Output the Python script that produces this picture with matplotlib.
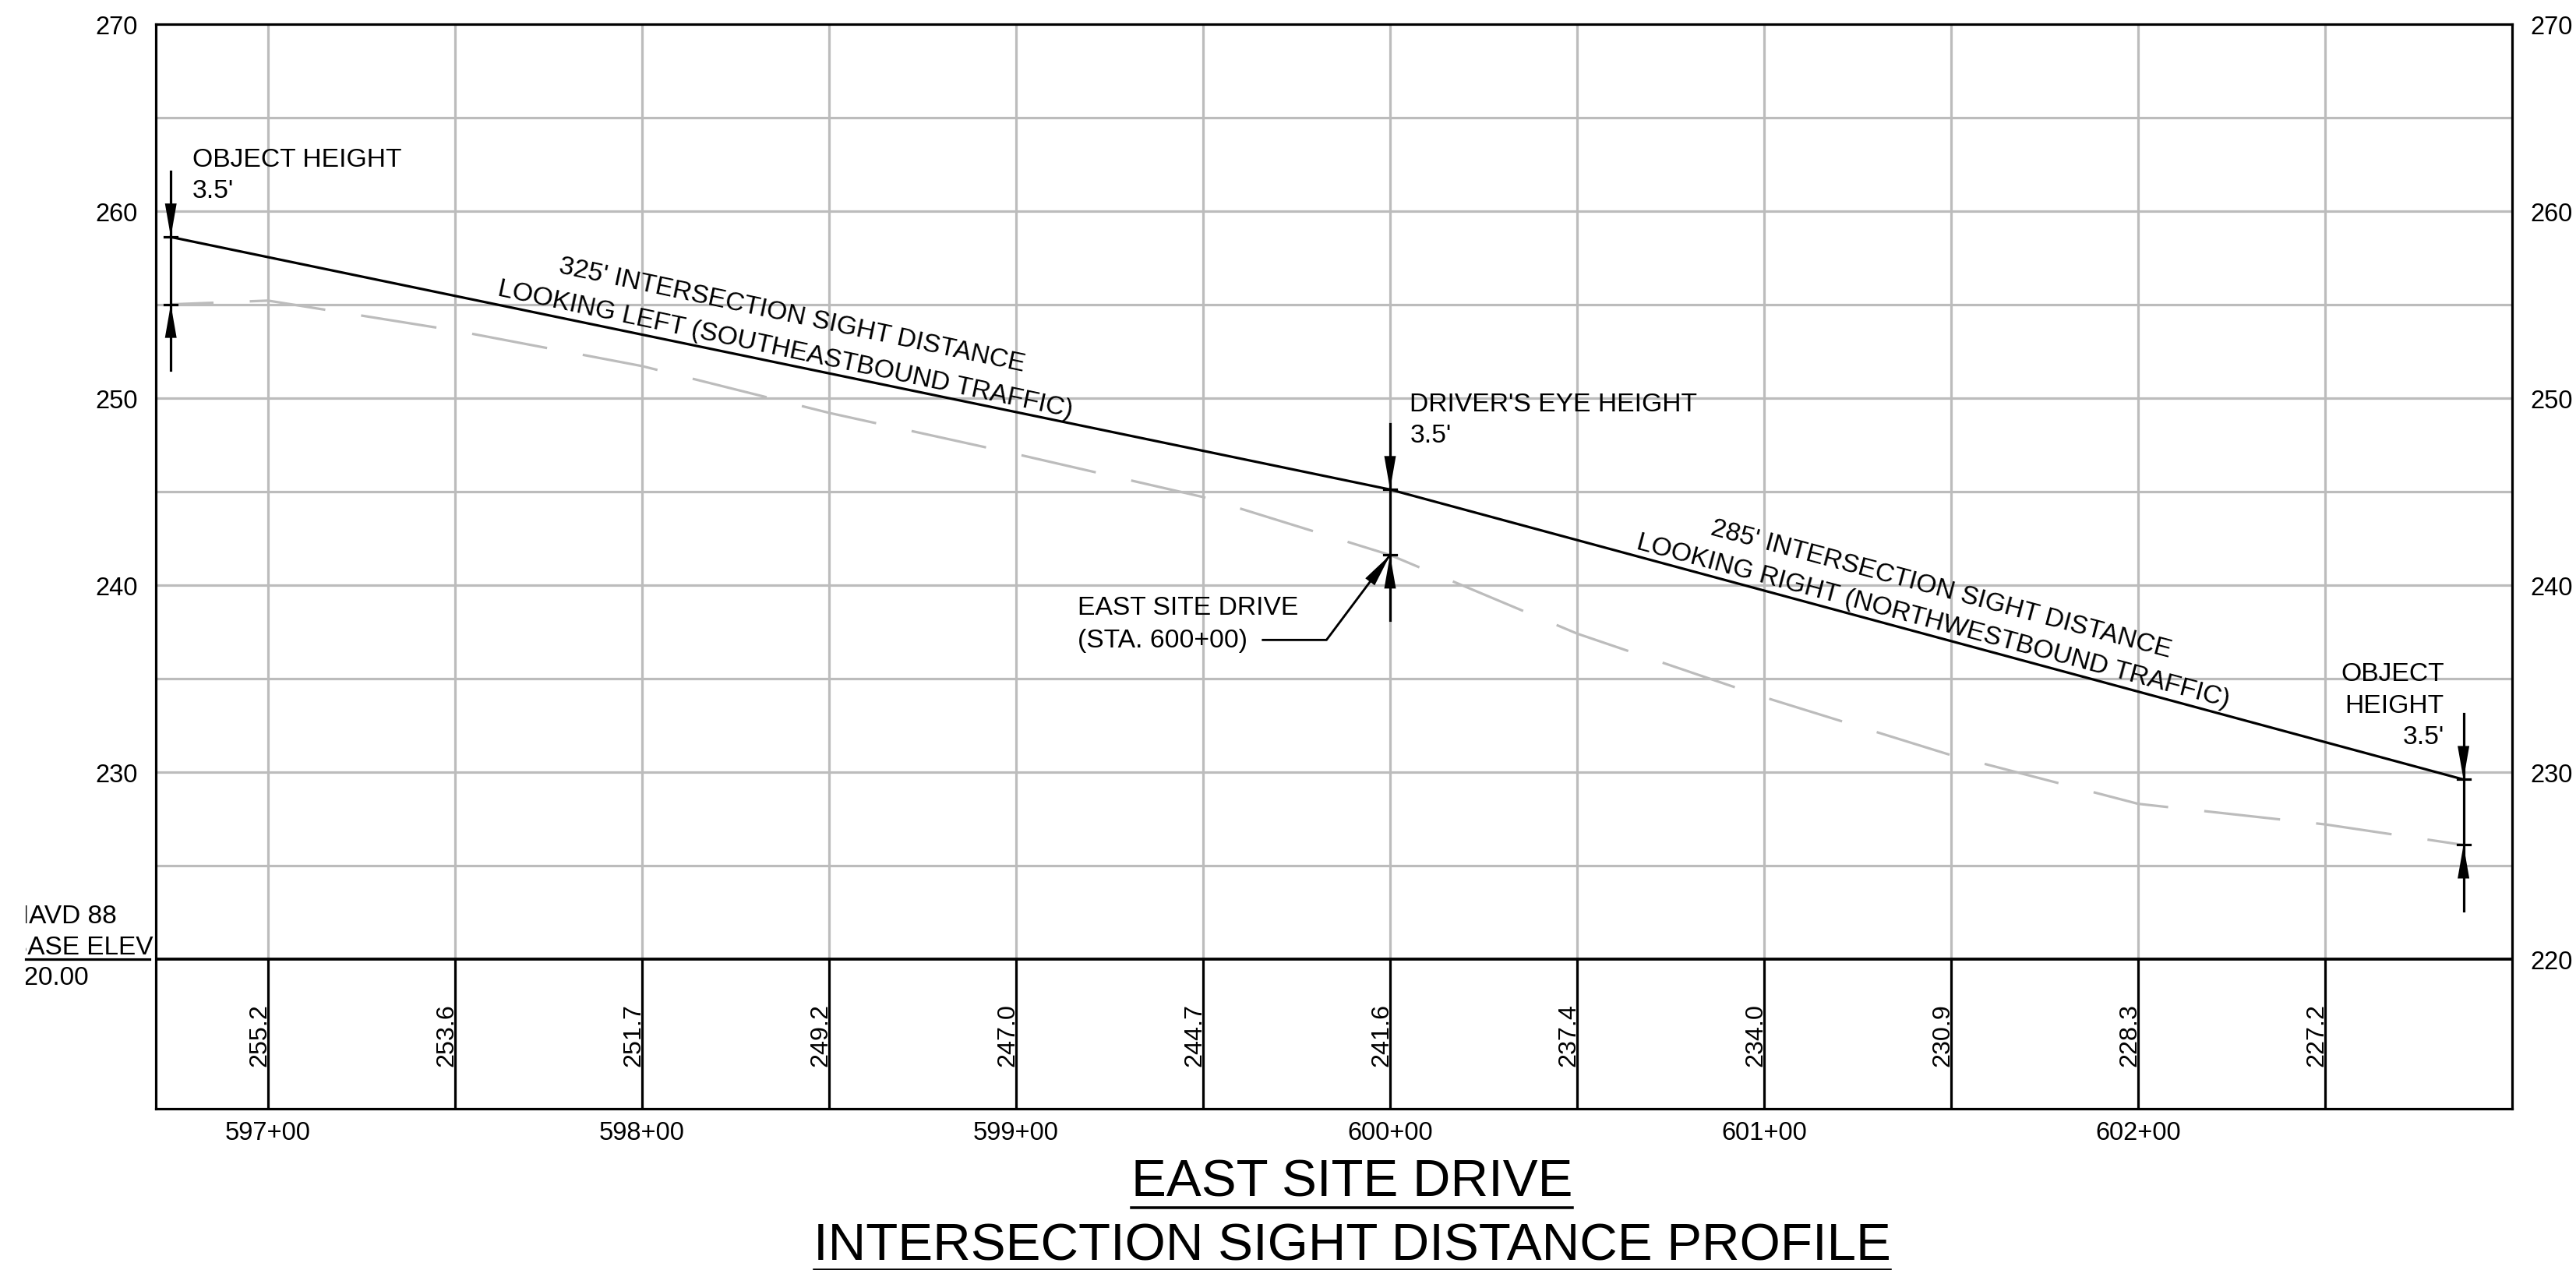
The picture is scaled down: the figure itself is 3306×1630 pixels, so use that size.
import matplotlib
matplotlib.use("Agg")
import matplotlib.pyplot as plt
from matplotlib.lines import Line2D
from matplotlib.transforms import Bbox

plt.rcParams['font.family'] = ['Liberation Sans', 'DejaVu Sans']
plt.rcParams['lines.scale_dashes'] = False

# Profile data (station in hundreds of feet)
stations = [596.74, 597.0, 597.5, 598.0, 598.5, 599.0, 599.5, 600.0, 600.5, 601.0, 601.5, 602.0, 602.5, 602.87]
grade = [255.0, 255.2, 253.6, 251.7, 249.2, 247.0, 244.7, 241.6, 237.4, 234.0, 230.9, 228.3, 227.2, 226.1]

# Sight line
sight_x = [596.74, 600.0, 602.87]
sight_y = [258.6, 245.1, 229.6]

# Table along the bottom
table_x = [597.0, 597.5, 598.0, 598.5, 599.0, 599.5, 600.0, 600.5, 601.0, 601.5, 602.0, 602.5]
table_labels = ['255.2', '253.6', '251.7', '249.2', '247.0', '244.7', '241.6', '237.4', '234.0', '230.9', '228.3', '227.2']

elev_ticks = [220, 230, 240, 250, 260, 270]
elev_grid = [225, 230, 235, 240, 245, 250, 255, 260, 265]
station_ticks = [597, 598, 599, 600, 601, 602]
station_labels = ['597+00', '598+00', '599+00', '600+00', '601+00', '602+00']

GRAY = '#bcbcbc'
W, H = 3306, 1631
PX_X = 1 / 480.0   # station per pixel
PX_Y = 1 / 24.0    # elevation per pixel
LW = 2.3
FS = 24.2

fig = plt.figure(figsize=(W / 100, H / 100), dpi=100)
ax = fig.add_axes([200 / W, 1 - 1424 / H, (3224 - 200) / W, (1424 - 31.5) / H])
ax.set_xlim(596.70, 603.00)
ax.set_ylim(212, 270)

# grid above the base line, black table rules below it
ax.hlines(elev_grid, 596.70, 603.00, color=GRAY, lw=LW, zorder=1)
ax.vlines(table_x, 220, 270, color=GRAY, lw=LW, zorder=1)
ax.vlines(table_x, 212, 220, color='black', lw=LW, zorder=2)
ax.axhline(220, color='black', lw=LW + 0.4, zorder=2)

# existing grade and sight line
ax.plot(stations, grade, color=GRAY, lw=LW, linestyle=(31, (70.5, 33.5)), dash_capstyle='butt', zorder=2)
ax.plot(sight_x, sight_y, color='black', lw=LW, zorder=3)


def arrow_head(tip_x, tip_y, dx, dy):
    # filled head 43 px long, 15 px wide, pointing at the tip
    n = (dx ** 2 + dy ** 2) ** 0.5
    ux, uy = dx / n, dy / n
    bx, by = -ux * 43, -uy * 43
    px, py = -uy * 7.5, ux * 7.5
    ax.fill([tip_x, tip_x + (bx + px) * PX_X, tip_x + (bx - px) * PX_X],
            [tip_y, tip_y + (by + py) * PX_Y, tip_y + (by - py) * PX_Y],
            color='black', lw=0, zorder=4)


def height_marker(x, top, bottom, reach=3.5):
    ax.plot([x, x], [top + reach, bottom - reach], color='black', lw=LW, zorder=4)
    for y in (top, bottom):
        ax.plot([x - 8 * PX_X, x + 8 * PX_X], [y, y], color='black', lw=LW, zorder=4)
    arrow_head(x, top, 0, -1)
    arrow_head(x, bottom, 0, 1)


height_marker(596.74, 258.6, 255.0)
height_marker(600.0, 245.1, 241.6)
height_marker(602.87, 229.6, 226.1)

# leader for the site drive label
leader_x = [599.66, 599.83, 600.0]
leader_y = [237.06, 237.06, 241.6]
ax.plot(leader_x, leader_y, color='black', lw=LW * 0.9, zorder=4)
arrow_head(leader_x[2], leader_y[2], (leader_x[2] - leader_x[1]) / PX_X, (leader_y[2] - leader_y[1]) / PX_Y)

# notes
notes = [
    (596.798, 262.40, 'OBJECT HEIGHT', 'left'),
    (596.798, 260.73, "3.5'", 'left'),
    (600.053, 249.31, "DRIVER'S EYE HEIGHT", 'left'),
    (600.053, 247.65, "3.5'", 'left'),
    (599.164, 238.44, 'EAST SITE DRIVE', 'left'),
    (599.164, 236.70, '(STA. 600+00)', 'left'),
    (602.818, 234.90, 'OBJECT', 'right'),
    (602.818, 233.19, 'HEIGHT', 'right'),
    (602.818, 231.52, "3.5'", 'right'),
]
for x, y, s, ha in notes:
    ax.text(x, y, s, ha=ha, va='baseline', fontsize=FS, zorder=5)

# sloped notes along the sight line
sloped = [
    (597.775, 256.72, "325' INTERSECTION SIGHT DISTANCE", -12.0),
    (597.612, 255.50, 'LOOKING LEFT (SOUTHEASTBOUND TRAFFIC)', -12.0),
    (600.855, 242.75, "285' INTERSECTION SIGHT DISTANCE", -15.0),
    (600.656, 242.00, 'LOOKING RIGHT (NORTHWESTBOUND TRAFFIC)', -15.0),
]
for x, y, s, ang in sloped:
    ax.text(x, y, s, rotation=ang, rotation_mode='anchor', ha='left', va='baseline', fontsize=FS, zorder=5)

# table values, reading upward against each rule
for x, s in zip(table_x, table_labels):
    ax.text(x - 2.5 * PX_X, 214.31, s, rotation=90, rotation_mode='anchor', ha='left', va='baseline', fontsize=FS - 1)

# datum block on the left, cut off by the sheet edge
datum = [(221.94, 'NAVD 88'), (220.27, 'BASE ELEV'), (218.65, '220.00')]
edge = Bbox([[33, 0], [W, H]])
for y, s in datum:
    t = ax.text(596.31, y, s, ha='left', va='baseline', fontsize=FS - 0.2, clip_on=True)
    t.set_clip_box(edge)
    t.set_clip_path(None)
ax.plot([596.353, 596.684], [220, 220], color='black', lw=LW, clip_on=False)

# axes
ax.set_yticks(elev_ticks)
ax.set_xticks(station_ticks)
ax.set_xticklabels(station_labels)
ax.tick_params(axis='both', length=0, labelsize=FS - 0.7)
ax.tick_params(axis='y', left=False, right=False, labelleft=True, labelright=True, pad=17)
ax.tick_params(axis='x', pad=11)
ax.yaxis.get_major_ticks()[0].label1.set_visible(False)  # left side has no 220
for sp in ax.spines.values():
    sp.set_linewidth(LW)

# title block with underlines sized from the text
titles = [('EAST SITE DRIVE', 1536, 1551, LW * 1.1), ('INTERSECTION SIGHT DISTANCE PROFILE', 1618, 1629.5, LW * 0.8)]
renderer = fig.canvas.get_renderer()
for s, base, under, ulw in titles:
    t = fig.text(1735 / W, 1 - base / H, s, ha='center', va='baseline', fontsize=48.4)
    box = t.get_window_extent(renderer)
    fig.add_artist(Line2D([box.x0 / W, box.x1 / W], [1 - under / H, 1 - under / H], color='black', lw=ulw))

fig.savefig('out.png', dpi=100)
